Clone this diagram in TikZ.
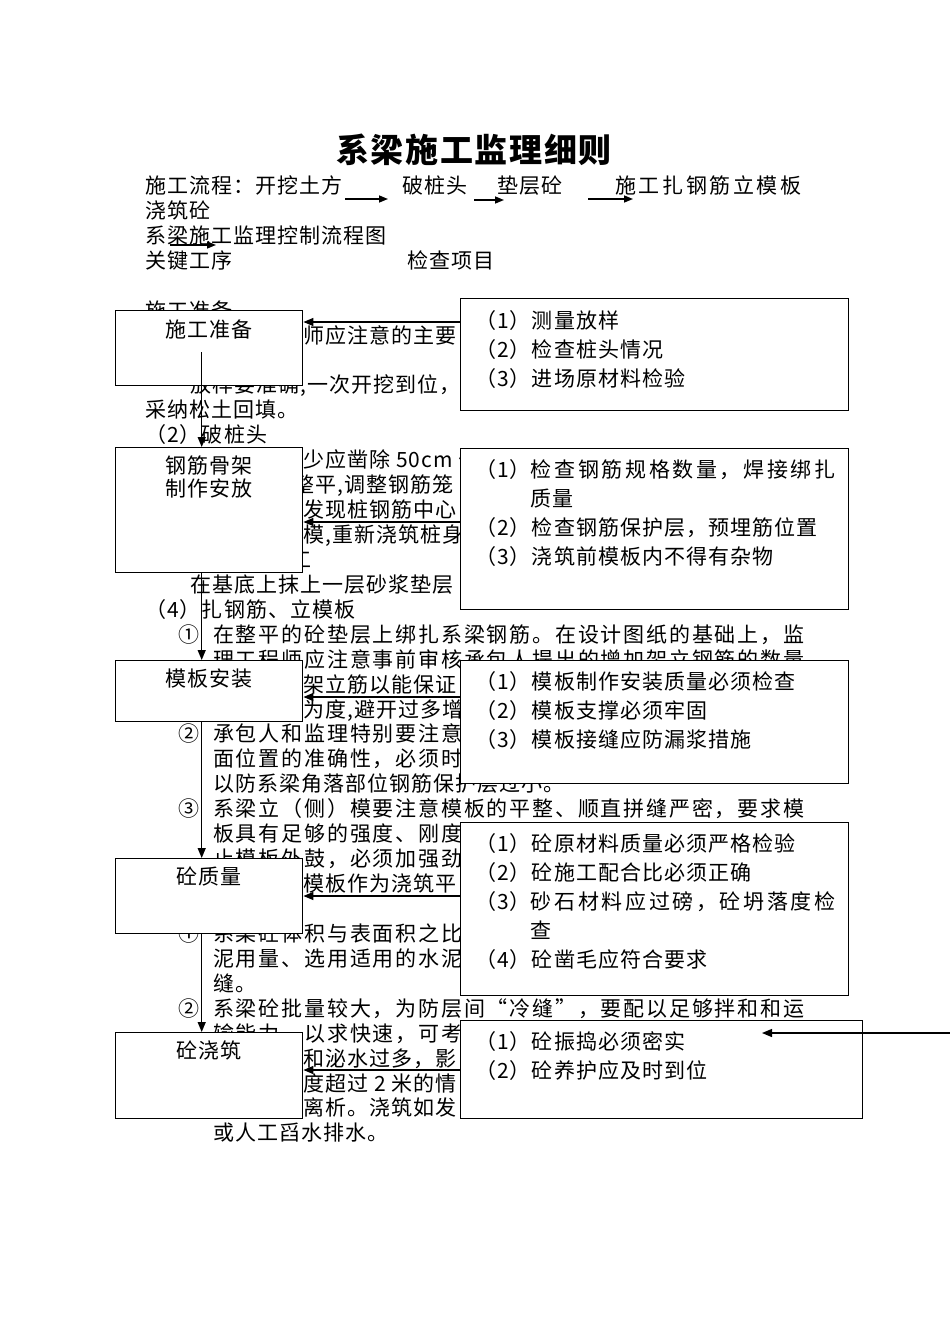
\documentclass[tikz,border=0pt]{standalone}
\usepackage{fontspec}
\usepackage{tikz}
\usetikzlibrary{arrows.meta,calc}

\newfontfamily\cjk{Noto Sans CJK SC}[LetterSpace=5]
\newfontfamily\cjkj{Noto Sans CJK SC}[LetterSpace=8.6]
\newfontfamily\cjkw{Noto Sans CJK SC}[LetterSpace=12.5]
\newfontfamily\cjkt{Noto Sans CJK SC}[LetterSpace=5]
\newcommand{\txtfont}{\cjk\fontsize{21}{25}\selectfont}
\newcommand{\jtxtfont}{\cjkj\fontsize{21}{25}\selectfont}
\newcommand{\wtxtfont}{\cjkw\fontsize{21}{25}\selectfont}
\newcommand{\lboxfont}{\cjk\fontsize{21}{23}\selectfont}
\newcommand{\rboxfont}{\cjk\fontsize{21}{29}\selectfont}
\newcommand{\titlefont}{\cjkt\bfseries\fontsize{33}{40}\selectfont}

\begin{document}
\begin{tikzpicture}[
    x=1pt, y=-1pt,
    txt/.style={anchor=west, inner sep=0, text height=18pt, text depth=3pt, font=\txtfont},
    jtxt/.style={txt, font=\jtxtfont},
    lbox/.style={draw, fill=white, line width=1.4pt, anchor=north west, inner sep=0, minimum width=187pt},
    rbox/.style={draw, fill=white, line width=1.4pt, anchor=north west, inner sep=0, minimum width=388pt},
    ltxt/.style={anchor=north, inner sep=0, align=center, font=\lboxfont},
    rtxt/.style={anchor=north west, inner sep=0, align=left, font=\rboxfont},
    arr/.style={-{Triangle[length=10pt,width=8pt]}, line width=1.3pt},
    harr/.style={-{Triangle[length=9pt,width=7pt]}, line width=1.5pt}
]
    \useasboundingbox (0,0) rectangle (950,1344);

    % title and header
    \node [font=\titlefont] (title) at (474,150) {系梁施工监理细则};
    \node [txt] (h1) at (145,186) {施工流程：开挖土方};
    \node [txt] (h2) at (402,186) {破桩头};
    \node [txt] (h3) at (497,186) {垫层砼};
    \node [txt, font=\wtxtfont] (h4) at (615,186) {施工扎钢筋立模板};
    \node [txt] (h5) at (145,211) {浇筑砼};
    \node [txt] (h6) at (145,236) {系梁施工监理控制流程图};
    \node [txt] (h7) at (145,261) {关键工序};
    \node [txt] (h8) at (407,261) {检查项目};

    \coordinate (f1a) at (345,199);
    \coordinate (f1b) at (388,199);
    \coordinate (f2a) at (474,200);
    \coordinate (f2b) at (504,200);
    \coordinate (f3a) at (588,199);
    \coordinate (f3b) at (633,199);
    \coordinate (f4a) at (170,245);
    \coordinate (f4b) at (216,245);
    \draw [harr] (f1a) -- (f1b);
    \draw [harr] (f2a) -- (f2b);
    \draw [harr] (f3a) -- (f3b);
    \draw [harr] (f4a) -- (f4b);

    % body text behind the chart
    \node [txt] (p5) at (145,311) {施工准备};
    \node [txt] (p6) at (303,336) {师应注意的主要};
    \node [txt] (p8) at (190,385) {放样要准确,一次开挖到位，};
    \node [txt] (p9) at (145,410) {采纳松土回填。};
    \node [txt] (p10) at (145,435) {（2）破桩头};
    \node [txt] (p11) at (303,460) {少应凿除 50cm 长};
    \node [txt] (p12) at (293,485) {整平,调整钢筋笼};
    \node [txt] (p13) at (303,510) {发现桩钢筋中心};
    \node [txt] (p14) at (303,535) {模,重新浇筑桩身};
    \node [txt] (p15) at (145,560) {（3）垫层砼施工};
    \node [txt] (p16) at (190,585) {在基底上抹上一层砂浆垫层};
    \node [txt] (p17) at (145,610) {（4）扎钢筋、立模板};
    \node [txt] (n18) at (178,635) {①};
    \node [jtxt] (p18) at (213,635) {在整平的砼垫层上绑扎系梁钢筋。在设计图纸的基础上，监};
    \node [jtxt] (p19) at (213,660) {理工程师应注意事前审核承包人提出的增加架立钢筋的数量};
    \node [txt] (p20) at (303,685) {架立筋以能保证};
    \node [txt] (p21) at (303,710) {为度,避开过多增};
    \node [txt] (n22) at (178,734) {②};
    \node [jtxt] (p22) at (213,734) {承包人和监理特别要注意};
    \node [jtxt] (p23) at (213,759) {面位置的准确性，必须时};
    \node [txt] (p24) at (213,784) {以防系梁角落部位钢筋保护层过小。};
    \node [txt] (n25) at (178,809) {③};
    \node [jtxt] (p25) at (213,809) {系梁立（侧）模要注意模板的平整、顺直拼缝严密，要求模};
    \node [jtxt] (p26) at (213,834) {板具有足够的强度、刚度};
    \node [jtxt] (p27) at (213,859) {止模板外鼓，必须加强劲};
    \node [txt] (p28) at (303,884) {模板作为浇筑平};
    \node [txt] (n30) at (178,934) {①};
    \node [jtxt] (p30) at (213,934) {系梁砼体积与表面积之比};
    \node [jtxt] (p31) at (213,959) {泥用量、选用适用的水泥};
    \node [txt] (p32) at (213,984) {缝。};
    \node [txt] (n33) at (178,1009) {②};
    \node [jtxt] (p33) at (213,1009) {系梁砼批量较大，为防层间“冷缝”，要配以足够拌和和运};
    \node [jtxt] (p34) at (213,1034) {输能力，以求快速，可考};
    \node [txt] (p35) at (303,1059) {和泌水过多，影};
    \node [txt] (p36) at (303,1084) {度超过 2 米的情};
    \node [txt] (p37) at (303,1108) {离析。浇筑如发};
    \node [txt] (p38) at (213,1133) {或人工舀水排水。};

    % key steps
    \node [lbox, minimum height=75pt] (b1) at (115,310) {};
    \node [lbox, minimum height=125pt] (b2) at (115,447) {};
    \node [lbox, minimum height=61pt] (b3) at (115,660) {};
    \node [lbox, minimum height=75pt] (b4) at (115,858) {};
    \node [lbox, minimum height=86pt] (b5) at (115,1032) {};
    \node [ltxt] (b1t) at ([yshift=-10pt]b1.north) {施工准备};
    \node [ltxt] (b2t) at ([yshift=-9pt]b2.north) {钢筋骨架\\制作安放};
    \node [ltxt] (b3t) at ([yshift=-9pt]b3.north) {模板安装};
    \node [ltxt] (b4t) at ([yshift=-9pt]b4.north) {砼质量};
    \node [ltxt] (b5t) at ([yshift=-9pt]b5.north) {砼浇筑};

    % check items
    \node [rbox, minimum height=112pt] (r1) at (460,298) {};
    \node [rbox, minimum height=161pt] (r2) at (460,448) {};
    \node [rbox, minimum height=123pt] (r3) at (460,660) {};
    \node [rbox, minimum height=173pt] (r4) at (460,822) {};
    \node [rbox, minimum width=402pt, minimum height=98pt] (r5) at (460,1020) {};
    \node [rtxt] (r1t) at ([xshift=15pt,yshift=-12pt]r1.north west) {（1）测量放样\\（2）检查桩头情况\\（3）进场原材料检验};
    \node [rtxt] (r2t) at ([xshift=15pt,yshift=-11pt]r2.north west) {（1）{\wtxtfont 检查钢筋规格数量，焊接绑扎}\\\phantom{（1）}质量\\（2）检查钢筋保护层，预埋筋位置\\（3）浇筑前模板内不得有杂物};
    \node [rtxt] (r3t) at ([xshift=15pt,yshift=-11pt]r3.north west) {（1）模板制作安装质量必须检查\\（2）模板支撑必须牢固\\（3）模板接缝应防漏浆措施};
    \node [rtxt] (r4t) at ([xshift=15pt,yshift=-11pt]r4.north west) {（1）砼原材料质量必须严格检验\\（2）砼施工配合比必须正确\\（3）{\wtxtfont 砂石材料应过磅，砼坍落度检}\\\phantom{（3）}查\\（4）砼凿毛应符合要求};
    \node [rtxt] (r5t) at ([xshift=15pt,yshift=-11pt]r5.north west) {（1）砼振捣必须密实\\（2）砼养护应及时到位};

    % flow down the key steps
    \draw [arr] ([xshift=-7.5pt,yshift=-42pt]b1.north) -- ([xshift=-7.5pt]b2.north);
    \draw [arr] ([xshift=-7.5pt]b2.south) -- ([xshift=-7.5pt]b3.north);
    \draw [arr] ([xshift=-7.5pt]b3.south) -- ([xshift=-7.5pt]b4.north);
    \draw [arr] ([xshift=-7.5pt]b4.south) -- ([xshift=-7.5pt]b5.north);

    % check items to key steps
    \draw [arr] ([yshift=-24pt]r1.north west) coordinate (g1) -- (g1 -| b1.east);
    \draw [arr] ([yshift=-74pt]r2.north west) coordinate (g2) -- (g2 -| b2.east);
    \draw [arr] ([yshift=-37pt]r3.north west) coordinate (g3) -- (g3 -| b3.east);
    \draw [arr] ([yshift=-74pt]r4.north west) coordinate (g4) -- (g4 -| b4.east);
    \draw [arr] ([yshift=-50pt]r5.north west) coordinate (g5) -- (g5 -| b5.east);

    \coordinate (e5a) at (950,1033);
    \coordinate (e5b) at (762,1033);
    \draw [arr] (e5a) -- (e5b);
\end{tikzpicture}
\end{document}
